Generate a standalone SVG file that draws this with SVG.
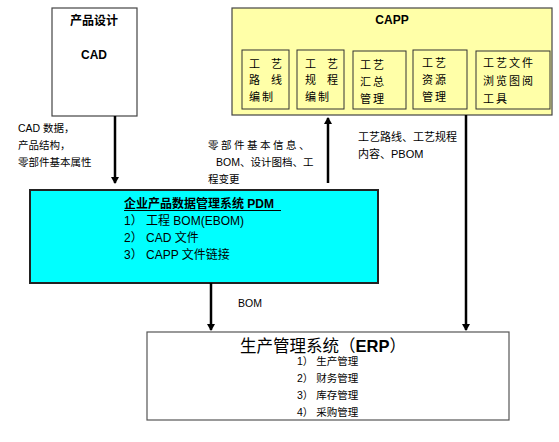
<svg xmlns="http://www.w3.org/2000/svg" width="559" height="442" viewBox="0 0 559 442">
<defs>
<marker id="ah" markerWidth="8" markerHeight="8" refX="6" refY="4" orient="auto" markerUnits="userSpaceOnUse">
<path d="M0,0 L7,4 L0,8 Z" fill="#000"/>
</marker>
<style>
text{font-family:"Liberation Sans","Noto Sans CJK SC",sans-serif;fill:#000}
.s{font-size:10.5px}
.t{font-size:11px;letter-spacing:2px}
.p{font-size:12px}
.m{font-size:12px}
.b{font-weight:bold}
.c{stroke:#000;stroke-width:2.5;fill:none;marker-end:url(#ah)}
.sub{fill:#FFFFA8;stroke:#333;stroke-width:1}
</style>
</defs>
<rect width="559" height="442" fill="#fff"/>
<g id="cad">
<rect x="52" y="8" width="85" height="108" fill="#fff" stroke="#444" stroke-width="1.2"/>
<text x="94" y="25" class="m b" text-anchor="middle">产品设计</text>
<text x="94" y="59" class="m b" text-anchor="middle">CAD</text>
</g>
<g id="capp">
<rect x="232" y="8" width="320" height="107" fill="#FFFFA8" stroke="#444" stroke-width="1.2"/>
<text x="392" y="24" class="m b" text-anchor="middle">CAPP</text>
<rect class="sub" x="242" y="50" width="47" height="59"/>
<text x="249" y="68" class="t">工</text><text x="271" y="68" class="t">艺</text>
<text x="249" y="84" class="t">路</text><text x="271" y="84" class="t">线</text>
<text x="249" y="101" class="t">编制</text>
<rect class="sub" x="297" y="50" width="47" height="59"/>
<text x="305" y="68" class="t">工</text><text x="327" y="68" class="t">艺</text>
<text x="305" y="84" class="t">规</text><text x="327" y="84" class="t">程</text>
<text x="305" y="101" class="t">编制</text>
<rect class="sub" x="353" y="51" width="53" height="58"/>
<text x="360" y="69" class="t">工艺</text><text x="360" y="86" class="t">汇总</text><text x="360" y="103" class="t">管理</text>
<rect class="sub" x="413" y="50" width="54" height="59"/>
<text x="422" y="67" class="t">工艺</text><text x="422" y="84" class="t">资源</text><text x="422" y="101" class="t">管理</text>
<rect class="sub" x="476" y="51" width="74" height="58"/>
<text x="483" y="67" class="t">工艺文件</text><text x="483" y="85" class="t">浏览图阅</text><text x="483" y="103" class="t">工具</text>
</g>
<g id="pdm">
<rect x="30" y="190" width="348" height="93" fill="#00FFFF" stroke="#222" stroke-width="2"/>
<text x="124" y="208" class="p b">企业产品数据管理系统 PDM</text>
<line x1="124" y1="210.5" x2="281" y2="210.5" stroke="#000" stroke-width="1"/>
<text x="124" y="225" class="p">1） 工程 BOM(EBOM)</text>
<text x="124" y="242" class="p">2） CAD 文件</text>
<text x="124" y="259" class="p">3） CAPP 文件链接</text>
</g>
<g id="erp">
<rect x="147" y="332" width="362" height="88" fill="#fff" stroke="#555" stroke-width="1.2"/>
<text x="240" y="352" font-size="16.5">生产管理系统（<tspan font-weight="bold">ERP</tspan>）</text>
<text x="297" y="365" class="s">1） 生产管理</text>
<text x="297" y="382" class="s">2） 财务管理</text>
<text x="297" y="399" class="s">3） 库存管理</text>
<text x="297" y="416" class="s">4） 采购管理</text>
</g>
<g id="connectors">
<line class="c" x1="115" y1="116" x2="115" y2="183"/>
<line class="c" x1="328" y1="183" x2="328" y2="118"/>
<line class="c" x1="466" y1="115" x2="466" y2="330"/>
<line class="c" x1="211" y1="283" x2="211" y2="330"/>
<text x="18" y="132" class="s">CAD 数据，</text>
<text x="18" y="149" class="s">产品结构，</text>
<text x="18" y="166" class="s">零部件基本属性</text>
<text x="208" y="149" class="s" letter-spacing="2.5">零部件基本信息、</text>
<text x="216" y="166" class="s">BOM、设计图档、工</text>
<text x="208" y="183" class="s">程变更</text>
<text x="358" y="141" class="m" font-size="11" style="font-size:11px">工艺路线、工艺规程</text>
<text x="358" y="158" class="s" style="font-size:11px">内容、PBOM</text>
<text x="238" y="307" class="s">BOM</text>
</g>
</svg>
